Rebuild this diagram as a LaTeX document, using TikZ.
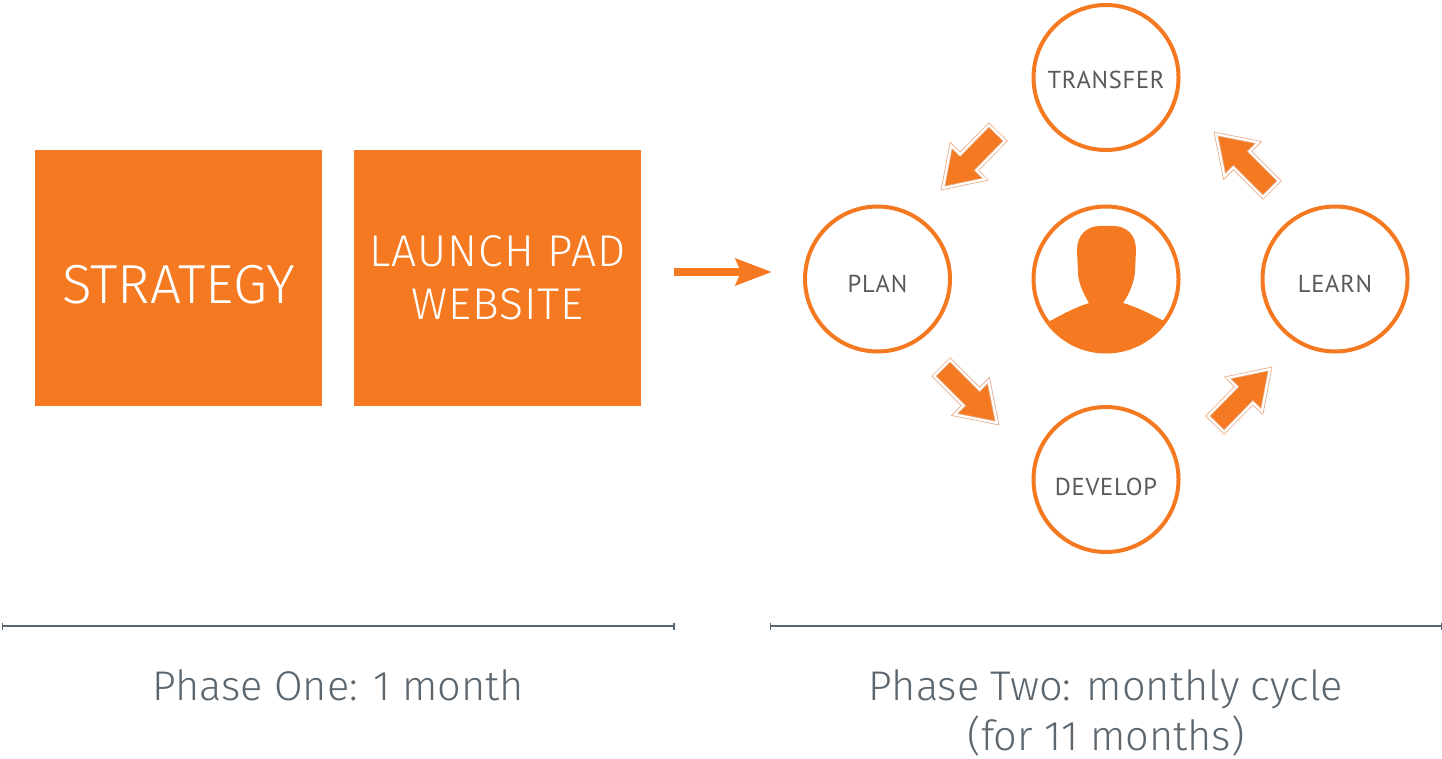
\documentclass[tikz,border=0pt]{standalone}
\usepackage{fontspec}
\usepackage{tikz}
\usetikzlibrary{arrows.meta, calc}
\setmainfont{Fira Sans Light}
\newfontfamily\boxfont[LetterSpace=2.5]{Fira Sans Light}
\newfontfamily\stepfont[LetterSpace=3]{PT Sans}
\definecolor{brandorange}{HTML}{F47920}
\definecolor{paleorange}{HTML}{E9AE8A}
\definecolor{slategrey}{HTML}{5C666E}
\definecolor{stepgrey}{HTML}{58595B}
\tikzset{
  bigbox/.style={shape=rectangle, fill=brandorange, text=white, align=center, inner sep=0pt, outer sep=0pt, minimum width=287, minimum height=256},
  stepcircle/.style={shape=circle, draw=brandorange, line width=4pt, inner sep=0pt, outer sep=0pt, minimum size=145, text=stepgrey, font=\stepfont\fontsize{24.5}{30}\selectfont},
  phaseline/.style={draw=slategrey, line width=1.2pt, {Bar[width=7pt,line width=1.2pt]}-{Bar[width=7pt,line width=1.2pt]}},
  phaselabel/.style={text=slategrey, align=center, inner sep=0pt, font=\fontsize{41.5}{50}\selectfont},
  flowarrow/.style={draw=brandorange, line width=8pt, -{Stealth[length=36pt,width=26pt,inset=5pt]}},
  fatarrow/.style={draw=paleorange, fill=brandorange, line width=.8pt, double=white, double distance=2.2pt, miter limit=10,
    to path={-- ($(\tikztostart)!11.4pt!90:(\tikztotarget)$)
      -- ($(\tikztotarget)!36pt!(\tikztostart)!11.4pt!-90:(\tikztostart)$)
      -- ($(\tikztotarget)!36pt!(\tikztostart)!24pt!-90:(\tikztostart)$)
      -- (\tikztotarget)
      -- ($(\tikztotarget)!36pt!(\tikztostart)!24pt!90:(\tikztostart)$)
      -- ($(\tikztotarget)!36pt!(\tikztostart)!11.4pt!90:(\tikztostart)$)
      -- ($(\tikztostart)!11.4pt!-90:(\tikztotarget)$) -- cycle}}
}

\begin{document}
\begin{tikzpicture}[x=1pt, y=-1pt]
\useasboundingbox (0, 0) rectangle (1442, 759);
\node at (178.5, 278) [bigbox, font=\fontsize{55}{58}\selectfont] (strategy) {\raisebox{-6.5pt}[\height][0pt]{STRATEGY}};
\node at (497.5, 278) [bigbox, font=\boxfont\fontsize{44.5}{53}\selectfont] (launch) {LAUNCH PAD\\WEBSITE};
\node at (1106, 77.5) [stepcircle] (transfer) {\raisebox{-2.5pt}[\height][0pt]{TRANSFER}};
\node at (877.5, 279) [stepcircle] (plan) {\raisebox{-5pt}[\height][0pt]{PLAN}};
\node at (1106, 279) [stepcircle] (person) {};
\node at (1335, 279) [stepcircle] (learn) {\raisebox{-5pt}[\height][0pt]{LEARN}};
\node at (1106, 479.5) [stepcircle] (develop) {\raisebox{-7.5pt}[\height][0pt]{DEVELOP}};
\begin{scope}
\clip (person) circle (72);
\fill [brandorange] (1050, 321) .. controls (1065, 313) and (1076, 307) .. (1089, 303)
  .. controls (1083, 293) and (1078, 282) .. (1078, 272)
  -- (1077, 250) .. controls (1077, 235) and (1087, 226) .. (1100, 226)
  -- (1113, 226) .. controls (1127, 226) and (1136, 235) .. (1136, 250)
  -- (1135, 272) .. controls (1134, 282) and (1130, 293) .. (1123, 303)
  .. controls (1137, 307) and (1148, 313) .. (1164, 321)
  -- (1190, 370) -- (1020, 370) -- cycle;
\end{scope}
\coordinate (launchout) at (674, 272);
\coordinate (planin) at (772, 272);
\draw [flowarrow] (launchout) to (planin);
\coordinate (transferout) at (997, 133);
\coordinate (planin2) at (943, 188);
\coordinate (planout) at (942, 368);
\coordinate (developin) at (997, 423);
\coordinate (developout) at (1216, 424);
\coordinate (learnin) at (1270, 369);
\coordinate (learnout) at (1271, 189);
\coordinate (transferin) at (1216, 134);
\draw [fatarrow] (transferout) to (planin2);
\draw [fatarrow] (planout) to (developin);
\draw [fatarrow] (developout) to (learnin);
\draw [fatarrow] (learnout) to (transferin);
\coordinate (phaseonestart) at (2, 626);
\coordinate (phaseoneend) at (674.5, 626);
\coordinate (phasetwostart) at (770, 626);
\coordinate (phasetwoend) at (1442, 626);
\draw [phaseline] (phaseonestart) to (phaseoneend);
\draw [phaseline] (phasetwostart) to (phasetwoend);
\node at (338, 685) [phaselabel] (phaseone) {Phase One: 1 month};
\node at (1106, 713) [phaselabel] (phasetwo) {Phase Two: monthly cycle\\(for 11 months)};
\end{tikzpicture}
\end{document}
